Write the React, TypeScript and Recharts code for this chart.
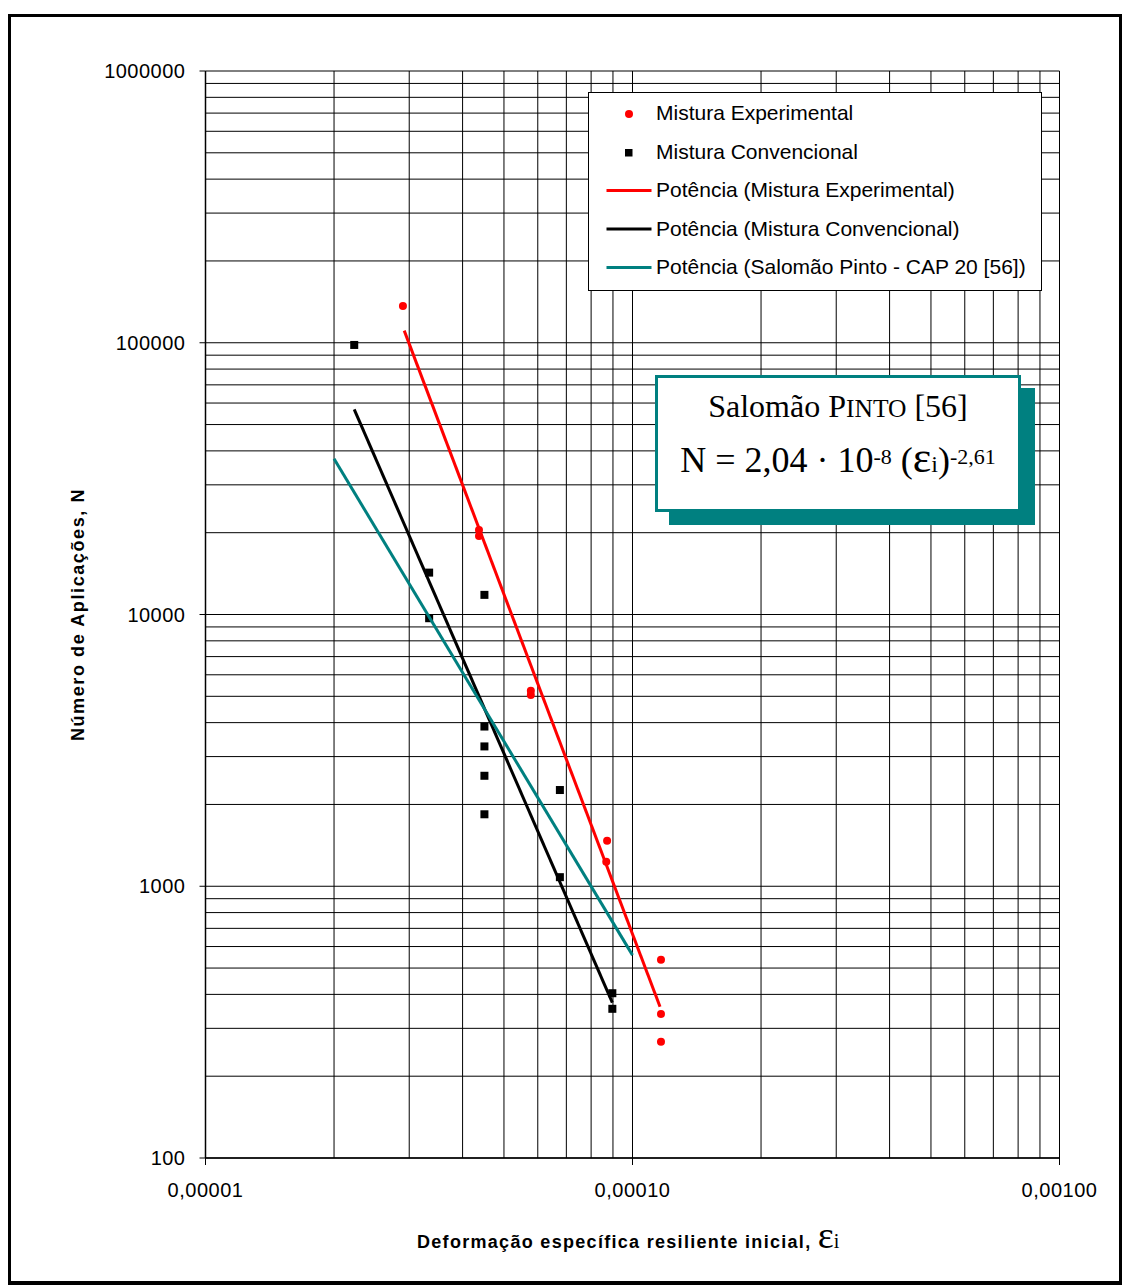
import React from 'react';
import { ComposedChart, Scatter, XAxis, YAxis, CartesianGrid } from 'recharts';

// ---------- data ----------
const experimentalStrain = [2.90e-5, 4.37e-5, 4.37e-5, 5.78e-5, 5.78e-5, 8.72e-5, 8.68e-5, 1.166e-4, 1.166e-4, 1.166e-4];
const experimentalN = [136600, 20480, 19460, 5240, 5060, 1470, 1230, 536, 339, 268];

const conventionalStrain = [2.23e-5, 3.34e-5, 3.34e-5, 4.50e-5, 4.50e-5, 4.50e-5, 4.50e-5, 4.50e-5, 6.76e-5, 6.76e-5, 8.97e-5, 8.97e-5];
const conventionalN = [98150, 14260, 9690, 11810, 3870, 3270, 2550, 1840, 2260, 1080, 404, 354];

const powerExpStrain = [2.92e-5, 1.16e-4];
const powerExpN = [110800, 360];
const powerConvStrain = [2.23e-5, 8.97e-5];
const powerConvN = [56900, 373];
const powerPintoStrain = [2.0e-5, 1.0e-4];
const powerPintoN = [37400, 558];

const xTicks = [1e-5, 2e-5, 3e-5, 4e-5, 5e-5, 6e-5, 7e-5, 8e-5, 9e-5, 1e-4, 2e-4, 3e-4, 4e-4, 5e-4, 6e-4, 7e-4, 8e-4, 9e-4, 1e-3];
const yTicks = [
  100, 200, 300, 400, 500, 600, 700, 800, 900,
  1000, 2000, 3000, 4000, 5000, 6000, 7000, 8000, 9000,
  10000, 20000, 30000, 40000, 50000, 60000, 70000, 80000, 90000,
  100000, 200000, 300000, 400000, 500000, 600000, 700000, 800000, 900000,
  1000000,
];

const seriesNames = [
  'Mistura Experimental',
  'Mistura Convencional',
  'Potência (Mistura Experimental)',
  'Potência (Mistura Convencional)',
  'Potência (Salomão Pinto - CAP 20 [56])',
];

const yTitle = 'Número de Aplicações, N';
const xTitle = 'Deformação específica resiliente inicial, ';

// ---------- layout ----------
const W = 1122;
const H = 1286;
const MARGIN = { top: 71, right: 62.5, bottom: 88, left: 105 };
const Y_AXIS_W = 100.5;
const X_AXIS_H = 40;
const PLOT_LEFT = MARGIN.left + Y_AXIS_W;
const PLOT_BOTTOM = H - MARGIN.bottom - X_AXIS_H;
const PLOT_TOP = MARGIN.top;

const SANS = '"Liberation Sans", Arial, sans-serif';
const SERIF = '"Liberation Serif", "Times New Roman", serif';
const RED = '#ff0000';
const TEAL = '#008080';

const zip = (xs: number[], ns: number[]) => xs.map((x, i) => ({ x, n: ns[i] }));

const expData = zip(experimentalStrain, experimentalN);
const convData = zip(conventionalStrain, conventionalN);
const powExpData = zip(powerExpStrain, powerExpN);
const powConvData = zip(powerConvStrain, powerConvN);
const powPintoData = zip(powerPintoStrain, powerPintoN);

const isDecade = (v: number) => Math.abs(Math.log10(v) - Math.round(Math.log10(v))) < 1e-9;

const YTick = (props: any) => {
  const { y, payload } = props;
  const v = payload.value;
  if (!isDecade(v)) return <g />;
  return (
    <g>
      <line x1={PLOT_LEFT - 6} x2={PLOT_LEFT} y1={y} y2={y} stroke="#000" strokeWidth={1} />
      <text x={PLOT_LEFT - 20} y={y} dy="0.36em" textAnchor="end" fontFamily={SANS} fontSize={20} letterSpacing={0.5} fill="#000">
        {String(v)}
      </text>
    </g>
  );
};

const XTick = (props: any) => {
  const { x, payload } = props;
  const v = payload.value;
  if (!isDecade(v)) return <g />;
  return (
    <g>
      <line x1={x} x2={x} y1={PLOT_BOTTOM} y2={PLOT_BOTTOM + 7} stroke="#000" strokeWidth={1} />
      <text x={x} y={1197} textAnchor="middle" fontFamily={SANS} fontSize={20} letterSpacing={0.5} fill="#000">
        {v.toFixed(5).replace('.', ',')}
      </text>
    </g>
  );
};

const Dot = (props: any) => <circle cx={props.cx} cy={props.cy} r={4} fill={RED} />;
const Sq = (props: any) => <rect x={props.cx - 4} y={props.cy - 4} width={8} height={8} fill="#000" />;
const NoShape = () => <g />;

const LegendBox = () => {
  const rowY = [112, 150.5, 189, 227.5, 266];
  return (
    <svg width={455} height={200} style={{ position: 'absolute', left: 587.5, top: 91.5 }}>
      <rect x={0.5} y={0.5} width={453} height={198} fill="#fff" stroke="#000" strokeWidth={1} />
      {seriesNames.map((name, i) => {
        const cy = rowY[i] - 91.5;
        let sym: React.ReactNode = null;
        if (i === 0) sym = <circle cx={41} cy={cy + 1.5} r={4} fill={RED} />;
        else if (i === 1) sym = <rect x={37} y={cy - 2} width={7.5} height={7.5} fill="#000" />;
        else {
          const c = i === 2 ? RED : i === 3 ? '#000' : TEAL;
          sym = <line x1={18.5} x2={63.5} y1={cy + 1} y2={cy + 1} stroke={c} strokeWidth={3} />;
        }
        return (
          <g key={name}>
            {sym}
            <text x={68} y={cy} dy="0.36em" fontFamily={SANS} fontSize={21} fill="#000">
              {name}
            </text>
          </g>
        );
      })}
    </svg>
  );
};

const Annotation = () => (
  <>
    <div style={{ position: 'absolute', left: 669, top: 388, width: 366, height: 137, background: TEAL }} />
    <div
      style={{
        position: 'absolute',
        left: 655,
        top: 375,
        width: 366,
        height: 137,
        boxSizing: 'border-box',
        border: `3px solid ${TEAL}`,
        background: '#fff',
        fontFamily: SERIF,
        color: '#000',
        textAlign: 'center',
      }}
    >
      <div style={{ position: 'absolute', left: 0, right: 0, top: 8, fontSize: 32, lineHeight: '40px', whiteSpace: 'nowrap' }}>
        Salomão P<span style={{ fontSize: 25.5 }}>INTO</span> [56]
      </div>
      <div style={{ position: 'absolute', left: 0, right: 0, top: 60, fontSize: 36, lineHeight: '44px', whiteSpace: 'nowrap' }}>
        N = 2,04 · 10<span style={{ fontSize: 22, verticalAlign: 'top', position: 'relative', top: -3 }}>-8</span> (<span style={{ fontSize: 44, lineHeight: '30px' }}>ε</span><span style={{ fontSize: 24 }}>i</span>)
        <span style={{ fontSize: 22, verticalAlign: 'top', position: 'relative', top: -3 }}>-2,61</span>
      </div>
    </div>
  </>
);

const Titles = () => (
  <svg width={W} height={H} style={{ position: 'absolute', left: 0, top: 0, pointerEvents: 'none' }}>
    <text
      transform={`translate(84, ${(PLOT_TOP + PLOT_BOTTOM) / 2}) rotate(-90)`}
      textAnchor="middle"
      fontFamily={SANS}
      fontWeight="bold"
      fontSize={18}
      letterSpacing={1.6}
      fill="#000"
    >
      {yTitle}
    </text>
    <text x={417} y={1248} fontFamily={SANS} fontWeight="bold" fontSize={18} letterSpacing={1.3} fill="#000">
      {xTitle}
      <tspan fontFamily={SERIF} fontWeight="normal" fontSize={38} letterSpacing={0}>ε</tspan>
      <tspan fontFamily={SERIF} fontWeight="normal" fontSize={20} letterSpacing={0}>i</tspan>
    </text>
  </svg>
);

export default function App() {
  return (
    <div style={{ position: 'absolute', left: 0, top: 0, width: W, height: H, background: '#fff', overflow: 'hidden' }}>
      <ComposedChart width={W} height={H} margin={MARGIN}>
        <CartesianGrid stroke="#000" strokeWidth={1} />
        <XAxis
          type="number"
          dataKey="x"
          scale="log"
          domain={[1e-5, 1e-3]}
          ticks={xTicks}
          interval={0}
          height={X_AXIS_H}
          allowDataOverflow
          axisLine={{ stroke: '#000', strokeWidth: 1.5 }}
          tickLine={false}
          tick={<XTick />}
        />
        <YAxis
          type="number"
          dataKey="n"
          scale="log"
          domain={[100, 1000000]}
          ticks={yTicks}
          interval={0}
          width={Y_AXIS_W}
          allowDataOverflow
          axisLine={{ stroke: '#000', strokeWidth: 1.5 }}
          tickLine={false}
          tick={<YTick />}
        />
        <Scatter name={seriesNames[0]} data={expData} shape={<Dot />} isAnimationActive={false} />
        <Scatter name={seriesNames[1]} data={convData} shape={<Sq />} isAnimationActive={false} />
        <Scatter name={seriesNames[2]} data={powExpData} line={{ stroke: RED, strokeWidth: 3 }} lineType="joint" shape={<NoShape />} isAnimationActive={false} />
        <Scatter name={seriesNames[3]} data={powConvData} line={{ stroke: '#000', strokeWidth: 3 }} lineType="joint" shape={<NoShape />} isAnimationActive={false} />
        <Scatter name={seriesNames[4]} data={powPintoData} line={{ stroke: TEAL, strokeWidth: 3 }} lineType="joint" shape={<NoShape />} isAnimationActive={false} />
      </ComposedChart>
      <Titles />
      <LegendBox />
      <Annotation />
      <div style={{ position: 'absolute', left: 8, top: 14, width: 1114, height: 1271, boxSizing: 'border-box', border: '3px solid #000', borderBottomWidth: 4, pointerEvents: 'none' }} />
    </div>
  );
}
